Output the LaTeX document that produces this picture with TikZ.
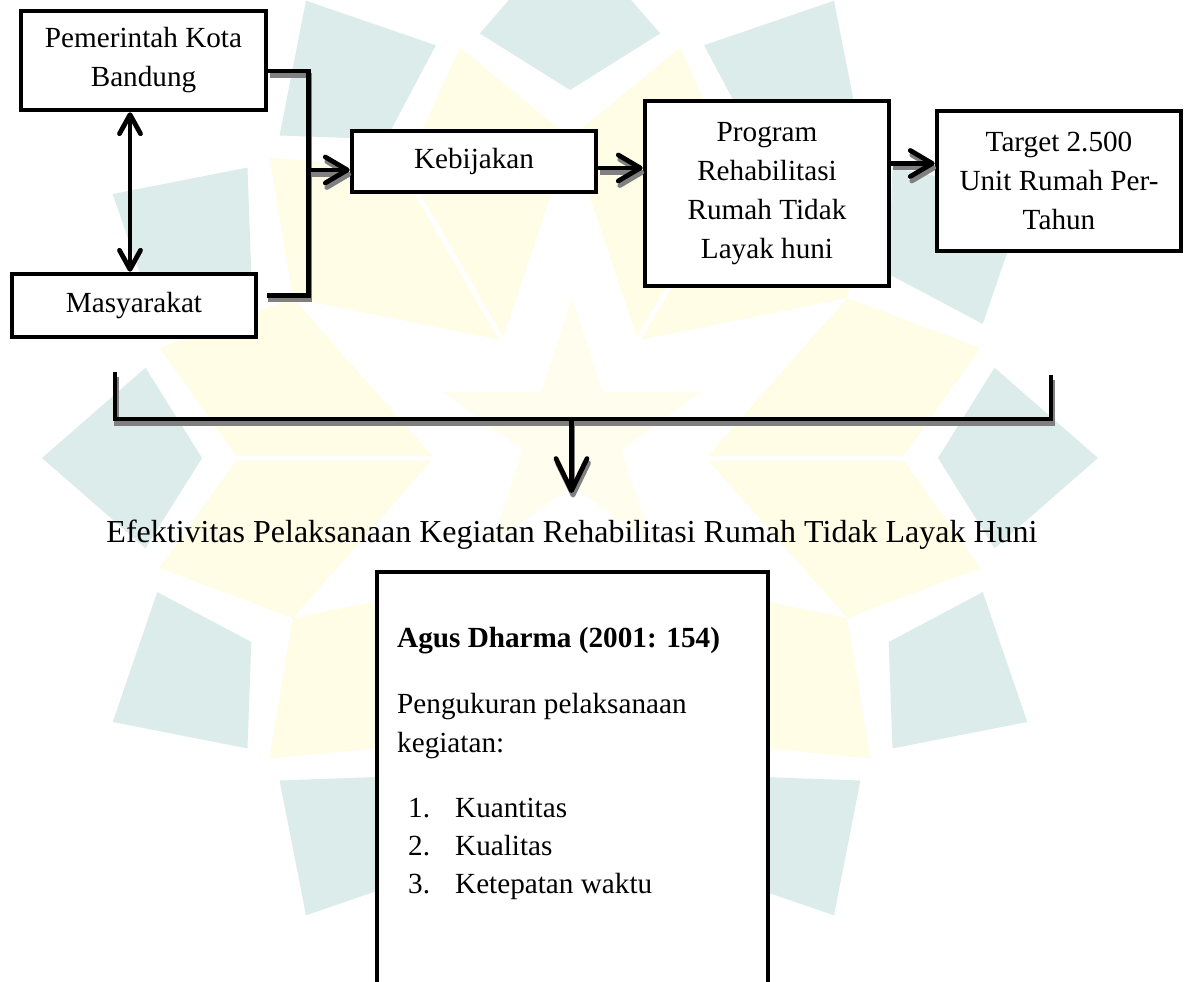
\documentclass[tikz,border=0pt]{standalone}
\usepackage{fontspec}
\setmainfont{Liberation Serif}
\usetikzlibrary{calc,arrows.meta}
\definecolor{teal1}{RGB}{220,236,234}
\definecolor{ylw1}{RGB}{255,253,230}
\definecolor{ylw2}{RGB}{255,254,238}
\definecolor{shd}{RGB}{128,128,128}
\begin{document}
\begin{tikzpicture}[x=1pt,y=-1pt,
  box/.style={draw=black, line width=4.6pt, fill=white, inner sep=0pt, align=center,
              font=\fontsize{29.2}{39}\selectfont},
  plain/.style={inner sep=0pt, anchor=base west, font=\fontsize{29.2}{39}\selectfont},
  conn/.style={draw=black, line width=4.8pt, line join=miter},
  cshadow/.style={draw=shd, line width=4.8pt, line join=miter, transform canvas={shift={(1.5,4.5)}}},
  arr/.style={-{Straight Barb[length=22pt,width=26pt,round]}},
  darr/.style={{Straight Barb[length=19pt,width=21pt,round]}-{Straight Barb[length=19pt,width=21pt,round]}},
  bigarr/.style={-{Straight Barb[length=32pt,width=31pt,round]}}
]
\fill[white] (0,0) rectangle (1186,982);
\useasboundingbox (0,0) rectangle (1186,982);

% ---------- watermark ----------
\coordinate (C) at (570,458);
\foreach \a in {0,30,...,330} {
  \fill[teal1] ($(C)+(\a:368)$) -- ($(C)+(\a+12:434)$) -- ($(C)+(\a:528)$) -- ($(C)+(\a-12:434)$) -- cycle;
}
\foreach \a in {0,60,...,300} {
  \fill[ylw1] ($(C)+(\a:332)$) -- ($(C)+(\a+15:425)$) -- ($(C)+(\a+30:320)$) -- ($(C)+(\a:136)$) -- cycle;
  \fill[ylw1] ($(C)+(\a:332)$) -- ($(C)+(\a-15:425)$) -- ($(C)+(\a-30:320)$) -- ($(C)+(\a:136)$) -- cycle;
  \draw[white, line width=5pt] ($(C)+(\a:125)$) -- ($(C)+(\a:345)$);
}
\coordinate (S) at (572,434);
\fill[ylw2] ($(S)+(270:137)$) -- ($(S)+(306:52)$) -- ($(S)+(342:137)$) -- ($(S)+(18:52)$)
  -- ($(S)+(54:137)$) -- ($(S)+(90:52)$) -- ($(S)+(126:137)$) -- ($(S)+(162:52)$)
  -- ($(S)+(198:137)$) -- ($(S)+(234:52)$) -- cycle;

% ---------- coordinates ----------
\coordinate (j1) at (308.5,71);
\coordinate (j2) at (308.5,295.5);
\coordinate (j3) at (308.5,170);
\coordinate (a2) at (620,168);
\coordinate (a3) at (913,163.5);
\coordinate (a4) at (130,190);
\coordinate (bl) at (115,372);
\coordinate (blc) at (115,419);
\coordinate (brc) at (1051,419);
\coordinate (br) at (1051,375);
\coordinate (bm) at (571.5,419);
\coordinate (atip) at (571.5,493);

% ---------- boxes ----------
\node[box, minimum width=245pt, minimum height=99pt] (pem) at (143.5,60.5) {Pemerintah Kota\\Bandung};
\node[box, minimum width=244pt, minimum height=63pt] (mas) at (134,305.5) {Masyarakat};
\node[box, minimum width=244pt, minimum height=61pt] (keb) at (474,161.5) {Kebijakan};
\node[box, minimum width=244pt, minimum height=185pt] (prog) at (767,193.5) {Program\\Rehabilitasi\\Rumah Tidak\\Layak huni};
\node[box, minimum width=244pt, minimum height=140pt] (tgt) at (1059,181) {Target 2.500\\Unit Rumah Per-\\Tahun};
\node[box, minimum width=391pt, minimum height=412pt] (agbox) at (572.5,778) {};

% ---------- texts ----------
\node[inner sep=0pt, anchor=base, font=\fontsize{32}{38}\selectfont] (efek) at (572,542)
  {Efektivitas Pelaksanaan Kegiatan Rehabilitasi Rumah Tidak Layak Huni};
\node[plain, font=\fontsize{29.2}{39}\selectfont\bfseries] (agus) at (397,647) {Agus Dharma (2001: 154)};
\node[plain] (ukur1) at (397,713) {Pengukuran pelaksanaan};
\node[plain] (ukur2) at (397,752) {kegiatan:};
\node[plain] (k1) at (408,817) {\makebox[47pt][l]{1.}Kuantitas};
\node[plain] (k2) at (408,855) {\makebox[47pt][l]{2.}Kualitas};
\node[plain] (k3) at (408,893) {\makebox[47pt][l]{3.}Ketepatan waktu};

% ---------- shadows ----------
\draw[cshadow] (pem.east |- j1) -- (j1) -- (j2) -- ($(mas.east |- j2)+(8.5,0)$);
\draw[cshadow, arr] (j3) -- (keb.west |- j3);
\draw[cshadow, arr] (keb.east |- a2) -- (prog.west |- a2);
\draw[cshadow, arr] (prog.east |- a3) -- (tgt.west |- a3);
\draw[cshadow] (bl) -- (blc) -- (brc) -- (br);
\draw[cshadow, bigarr] (bm) -- (atip);

% ---------- connectors ----------
\draw[conn] (pem.east |- j1) -- (j1) -- (j2) -- ($(mas.east |- j2)+(8.5,0)$);
\draw[conn, arr] (j3) -- (keb.west |- j3);
\draw[conn, arr] (keb.east |- a2) -- (prog.west |- a2);
\draw[conn, arr] (prog.east |- a3) -- (tgt.west |- a3);
\draw[conn, darr] (pem.south -| a4) -- (mas.north -| a4);
\draw[conn] (bl) -- (blc) -- (brc) -- (br);
\draw[conn, bigarr] (bm) -- (atip);
\end{tikzpicture}
\end{document}
